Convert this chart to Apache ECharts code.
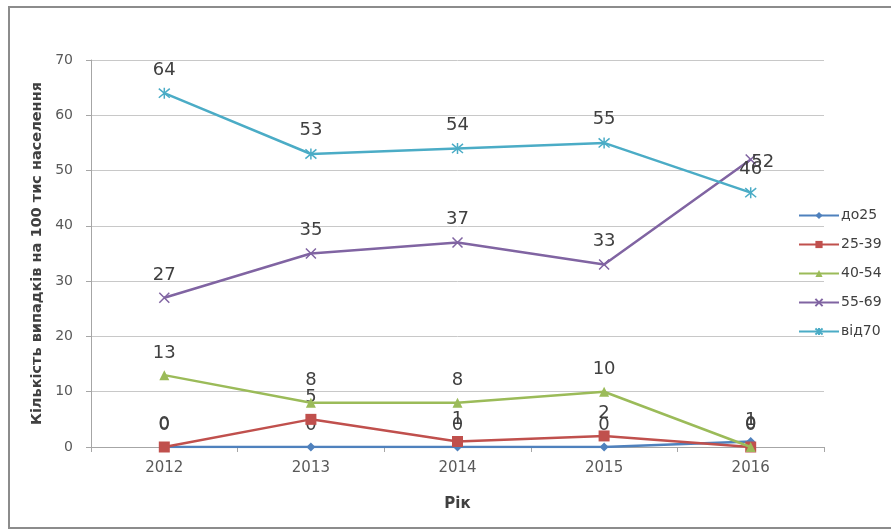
<!DOCTYPE html>
<html>
<head>
<meta charset="utf-8">
<script src="https://cdn.jsdelivr.net/npm/echarts@6/dist/echarts.min.js"></script>
<style>html,body{margin:0;padding:0;background:#fff}#c{width:891px;height:531px}</style>
</head>
<body>
<div id="c"></div>
<script>
const years = ['2012', '2013', '2014', '2015', '2016'];
const seriesNames = ['до25', '25-39', '40-54', '55-69', 'від70'];
const do25 = [0, 0, 0, 0, 1];
const g25_39 = [0, 5, 1, 2, 0];
const g40_54 = [13, 8, 8, 10, 0];
const g55_69 = [27, 35, 37, 33, 52];
const vid70 = [64, 53, 54, 55, 46];
const yTicks = [0, 10, 20, 30, 40, 50, 60, 70];

const colors = ['#4F81BD', '#C0504D', '#9BBB59', '#8064A2', '#4BACC6'];
const symbols = ['diamond', 'rect', 'triangle',
  'path://M0,0L10,10M10,0L0,10',
  'path://M0,0L10,10M10,0L0,10M5,-1L5,11'];
const sizes = [9, 11, 10, 10, 11];
const allData = [do25, g25_39, g40_54, g55_69, vid70];
const font = 'DejaVu Sans, Verdana, sans-serif';

function buildData(vals, si) {
  return vals.map((v, i) => {
    // label of the last 55-69 point sits beside the marker, as in the reference
    if (si === 3 && i === 4) {
      return {value: v, label: {offset: [12, 26]}};
    }
    return v;
  });
}

const chart = echarts.init(document.getElementById('c'));
chart.setOption({
  animation: false,
  color: colors,
  graphic: [{
    type: 'rect', shape: {x: 9, y: 7, width: 890, height: 521},
    style: {fill: 'none', stroke: '#8c8c8c', lineWidth: 2}, silent: true
  }],
  grid: {left: 91, right: 67, top: 60, bottom: 84},
  legend: {
    orient: 'vertical', left: 793, top: 202, itemGap: 12,
    itemWidth: 40, itemHeight: 9,
    textStyle: {fontFamily: font, fontSize: 14, lineHeight: 17, color: '#404040', padding: [0, 0, 0, -3]},
    data: seriesNames
  },
  xAxis: {
    type: 'category', data: years, boundaryGap: true,
    name: 'Рік', nameLocation: 'middle', nameGap: 50,
    nameTextStyle: {fontFamily: font, fontSize: 15, fontWeight: 'bold', color: '#404040'},
    axisLine: {lineStyle: {color: '#a6a6a6'}},
    axisTick: {show: true, length: 5, lineStyle: {color: '#a6a6a6'}},
    axisLabel: {fontFamily: font, fontSize: 15, color: '#595959', margin: 14}
  },
  yAxis: {
    type: 'value', min: 0, max: 70, interval: 10,
    name: 'Кількість випадків на 100 тис населення', nameLocation: 'middle', nameGap: 42,
    nameTextStyle: {fontFamily: font, fontSize: 14.5, fontWeight: 'bold', color: '#404040'},
    axisLine: {show: true, lineStyle: {color: '#a6a6a6'}},
    axisTick: {show: true, length: 5, lineStyle: {color: '#a6a6a6'}},
    axisLabel: {fontFamily: font, fontSize: 14, color: '#595959', margin: 18,
      formatter: v => yTicks.includes(v) ? String(v) : ''},
    splitLine: {lineStyle: {color: '#c8c8c8', width: 1}}
  },
  series: seriesNames.map((n, i) => ({
    name: n, type: 'line', data: buildData(allData[i], i),
    symbol: symbols[i], symbolSize: sizes[i],
    lineStyle: {width: 2.5, color: colors[i]},
    itemStyle: i >= 3 ? {color: colors[i], borderColor: colors[i], borderWidth: 1.5} : {color: colors[i]},
    label: {show: true, position: 'top', distance: 8,
      fontFamily: font, fontSize: 18, color: '#404040'},
    z: 2 + i
  }))
});
</script>
</body>
</html>
